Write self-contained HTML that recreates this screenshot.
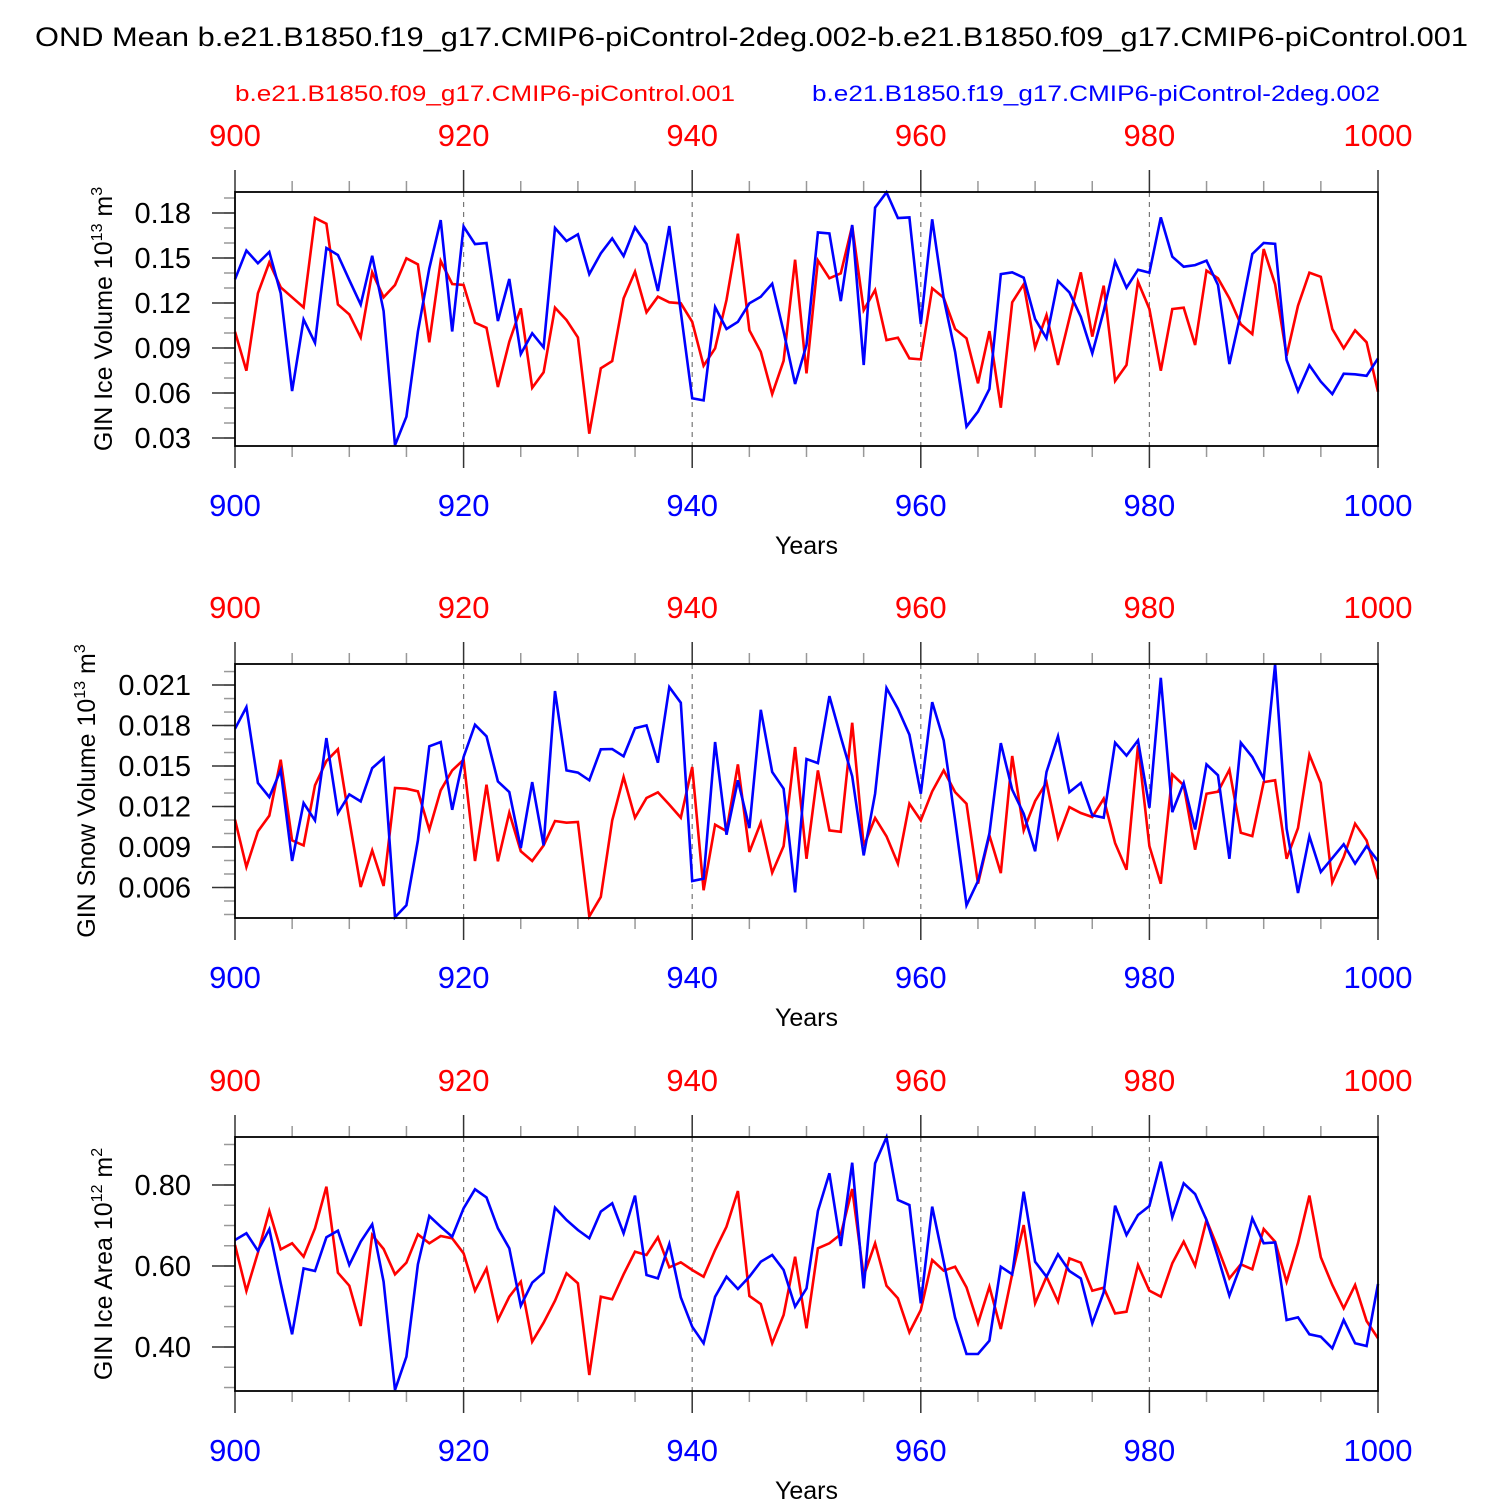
<!DOCTYPE html>
<html><head><meta charset="utf-8"><title>OND Mean GIN sea ice</title>
<style>
html,body{margin:0;padding:0;background:#fff;}
svg{display:block;font-family:"Liberation Sans",Arial,sans-serif;}
</style></head>
<body>
<svg id="chart" width="1500" height="1500" viewBox="0 0 1500 1500" xmlns="http://www.w3.org/2000/svg">
<rect x="0" y="0" width="1500" height="1500" fill="#fff"/>
<text x="35" y="46" font-size="27" textLength="1433" lengthAdjust="spacingAndGlyphs" fill="#000">OND Mean b.e21.B1850.f19_g17.CMIP6-piControl-2deg.002-b.e21.B1850.f09_g17.CMIP6-piControl.001</text>
<text x="235" y="101" font-size="22" textLength="500" lengthAdjust="spacingAndGlyphs" fill="#ff0000">b.e21.B1850.f09_g17.CMIP6-piControl.001</text>
<text x="812" y="101" font-size="22" textLength="568" lengthAdjust="spacingAndGlyphs" fill="#0000ff">b.e21.B1850.f19_g17.CMIP6-piControl-2deg.002</text>
<g id="panels"></g>
</svg>
<script>
const years = [];
for (let y = 900; y <= 1000; y++) years.push(y);
const xTickLabels = [900, 920, 940, 960, 980, 1000];

const iceVolBlue = [0.1358,0.155,0.1465,0.154,0.1265,0.0613,0.109,0.0935,0.1567,0.152,0.1353,0.119,0.1515,0.1147,0.0253,0.0442,0.1009,0.1431,0.1753,0.101,0.171,0.1593,0.160,0.108,0.136,0.086,0.0998,0.0905,0.170,0.1613,0.1658,0.1393,0.1531,0.1631,0.1513,0.1704,0.1593,0.128,0.1713,0.114,0.0565,0.0551,0.1173,0.1027,0.1075,0.1198,0.1242,0.1329,0.101,0.066,0.092,0.1671,0.1664,0.1213,0.172,0.0787,0.1836,0.1938,0.1767,0.1771,0.106,0.1758,0.1231,0.0875,0.0376,0.0476,0.0627,0.1393,0.1405,0.1369,0.1093,0.0965,0.1347,0.1271,0.1109,0.0865,0.1147,0.1476,0.1302,0.1422,0.1402,0.1771,0.1509,0.1442,0.1453,0.1482,0.132,0.0793,0.1131,0.1527,0.160,0.1595,0.082,0.0613,0.0785,0.0676,0.0593,0.0729,0.0725,0.0715,0.0831];
const iceVolRed = [0.1009,0.0749,0.1265,0.1471,0.1305,0.1238,0.1171,0.1767,0.1729,0.119,0.1124,0.0971,0.1405,0.1238,0.132,0.1498,0.1458,0.0938,0.148,0.1327,0.132,0.1069,0.1035,0.064,0.0942,0.1165,0.0635,0.0738,0.1169,0.1087,0.0971,0.0329,0.0765,0.0813,0.1231,0.1409,0.1138,0.1242,0.1205,0.1198,0.1075,0.0782,0.0898,0.122,0.1662,0.1018,0.0875,0.0593,0.0815,0.1489,0.0731,0.1484,0.1365,0.1398,0.1715,0.1153,0.1287,0.0953,0.0969,0.0831,0.0824,0.1298,0.1235,0.1027,0.0965,0.0665,0.1013,0.0502,0.1205,0.1325,0.0902,0.112,0.0787,0.1098,0.1405,0.0976,0.1316,0.068,0.0787,0.1342,0.116,0.0749,0.116,0.1169,0.092,0.1416,0.1365,0.1231,0.1058,0.0993,0.156,0.1325,0.0849,0.1182,0.1402,0.1375,0.1027,0.0898,0.1018,0.0938,0.0609];

const snowVolBlue = [0.01776,0.01937,0.01374,0.0127,0.0147,0.00796,0.01226,0.01097,0.01707,0.01152,0.0129,0.01238,0.01485,0.01559,0.0038,0.00468,0.00949,0.01646,0.01678,0.01176,0.01567,0.01806,0.0172,0.01386,0.01307,0.00893,0.01381,0.00912,0.02056,0.01468,0.01451,0.01394,0.01624,0.01626,0.01572,0.0178,0.01801,0.01525,0.02085,0.01969,0.00648,0.00665,0.01678,0.00991,0.01394,0.0104,0.01917,0.01456,0.01332,0.00564,0.01552,0.01522,0.02018,0.01715,0.01424,0.00838,0.01295,0.02078,0.01925,0.01732,0.01295,0.01974,0.0169,0.011,0.00468,0.00648,0.00999,0.0167,0.01325,0.01147,0.00868,0.01456,0.0172,0.01307,0.01374,0.01135,0.01117,0.01673,0.01577,0.0169,0.01191,0.02154,0.01159,0.01374,0.0103,0.01512,0.01431,0.00813,0.01673,0.01567,0.01406,0.02253,0.01036,0.00559,0.00979,0.00715,0.00818,0.0092,0.00777,0.00907,0.00796];
const snowVolRed = [0.01102,0.00752,0.01016,0.01132,0.01547,0.00949,0.00912,0.01357,0.01537,0.01624,0.011,0.00604,0.00875,0.00611,0.01337,0.01332,0.01312,0.01028,0.0132,0.01468,0.01547,0.00796,0.01362,0.00794,0.01154,0.00868,0.00796,0.00912,0.01093,0.0108,0.01085,0.00386,0.0053,0.01097,0.01419,0.01117,0.01263,0.01305,0.01214,0.01117,0.01493,0.00579,0.01065,0.01018,0.01512,0.00863,0.0108,0.0071,0.00907,0.01641,0.00813,0.01468,0.01023,0.01013,0.01821,0.00907,0.01115,0.00979,0.00777,0.01221,0.01097,0.01312,0.01468,0.01307,0.01221,0.00628,0.00986,0.00707,0.01574,0.01023,0.0124,0.01379,0.00969,0.01196,0.01152,0.01122,0.01258,0.00929,0.00732,0.01653,0.00907,0.00628,0.01438,0.01357,0.0088,0.01295,0.0131,0.01473,0.01006,0.00981,0.01381,0.01394,0.00813,0.0104,0.01584,0.01374,0.00638,0.00826,0.01073,0.00949,0.00661];

const iceAreaBlue = [0.6642,0.6807,0.6378,0.6905,0.5572,0.4313,0.5942,0.5877,0.6708,0.6872,0.6025,0.6601,0.7029,0.5613,0.2938,0.3761,0.6041,0.7235,0.6971,0.6724,0.7424,0.7893,0.7695,0.693,0.6436,0.502,0.5588,0.5835,0.744,0.7136,0.6889,0.6683,0.7342,0.7547,0.6807,0.7737,0.5778,0.5695,0.6543,0.5226,0.4502,0.4091,0.5243,0.5737,0.5432,0.5737,0.6107,0.6272,0.5901,0.4996,0.5448,0.7358,0.8288,0.6494,0.8551,0.5448,0.8535,0.9177,0.763,0.7506,0.5078,0.7465,0.6107,0.4724,0.3827,0.3827,0.4156,0.5984,0.5794,0.7835,0.6107,0.5737,0.6288,0.5877,0.5695,0.4584,0.535,0.749,0.6765,0.7259,0.7481,0.8576,0.7202,0.8041,0.7778,0.7136,0.6214,0.5267,0.6025,0.7177,0.656,0.6584,0.4667,0.4733,0.4313,0.4255,0.3967,0.4667,0.4091,0.4025,0.5556];
const iceAreaRed = [0.6518,0.5383,0.6329,0.7358,0.6411,0.656,0.623,0.693,0.7959,0.5835,0.5514,0.4519,0.6765,0.642,0.5794,0.6082,0.6782,0.656,0.6741,0.6683,0.6313,0.5391,0.5942,0.4667,0.5243,0.5613,0.4132,0.4601,0.5144,0.5819,0.5572,0.3309,0.5243,0.5177,0.5794,0.6354,0.6272,0.6708,0.5967,0.6091,0.5901,0.5737,0.6395,0.6971,0.7852,0.5259,0.5062,0.4091,0.479,0.623,0.4461,0.6436,0.656,0.6782,0.7901,0.5753,0.656,0.5514,0.5202,0.4362,0.4914,0.6148,0.5885,0.5984,0.5473,0.4584,0.549,0.4444,0.5802,0.7012,0.5078,0.5737,0.5119,0.6189,0.6082,0.5391,0.5465,0.4831,0.4872,0.6025,0.5391,0.5243,0.6066,0.6601,0.6008,0.7136,0.6436,0.5695,0.6041,0.5918,0.6913,0.6601,0.5613,0.656,0.7737,0.6214,0.5531,0.4955,0.5531,0.4642,0.4214];

const iceVolTicks = ["0.03","0.06","0.09","0.12","0.15","0.18"];
const snowVolTicks = ["0.006","0.009","0.012","0.015","0.018","0.021"];
const iceAreaTicks = ["0.40","0.60","0.80"];

const NS = "http://www.w3.org/2000/svg";
const root = document.getElementById("panels");
const X0 = 235, X1 = 1378;
function xScale(yr){ return X0 + (yr - 900) / 100 * (X1 - X0); }
function mk(tag, attrs, parent){ const e = document.createElementNS(NS, tag); for (const k in attrs) e.setAttribute(k, attrs[k]); (parent||root).appendChild(e); return e; }

const panels = [
  {top:192, vmin:0.02467, vmax:0.194, ticks:iceVolTicks, minor:0.01, blue:iceVolBlue, red:iceVolRed, title:"GIN Ice Volume 10", sup:"13", unit:" m", usup:"3", tx:112, name:"ice-volume"},
  {top:664, vmin:0.00374, vmax:0.02256, ticks:snowVolTicks, minor:0.001, blue:snowVolBlue, red:snowVolRed, title:"GIN Snow Volume 10", sup:"13", unit:" m", usup:"3", tx:95, name:"snow-volume"},
  {top:1137, vmin:0.2914, vmax:0.9185, ticks:iceAreaTicks, minor:0.05, blue:iceAreaBlue, red:iceAreaRed, title:"GIN Ice Area 10", sup:"12", unit:" m", usup:"2", tx:112, name:"ice-area"}
];

panels.forEach(function(p){
  const H = 254, top = p.top, bot = top + H;
  const g = mk("g", {});
  
  
  function yScale(v){ return bot - (v - p.vmin) / (p.vmax - p.vmin) * H; }
  [920,940,960,980].forEach(function(yr){
    const l = mk("line", {x1:xScale(yr), x2:xScale(yr), y1:top, y2:bot, stroke:"#777", "stroke-width":1.2, "stroke-dasharray":"5,5"}, g);
    
    
  });
  for (let yr = 900; yr <= 1000; yr += 5) {
    const major = (yr % 20 === 0);
    const len = major ? 22 : 11;
    const x = xScale(yr);
    const t1 = mk("line", {x1:x, x2:x, y1:top, y2:top - len, stroke:major?"#333":"#999", "stroke-width":1.5}, g);
    
    
    const t2 = mk("line", {x1:x, x2:x, y1:bot, y2:bot + len, stroke:major?"#333":"#999", "stroke-width":1.5}, g);
    
    
  }
  xTickLabels.forEach(function(yr){
    const a = mk("text", {x:xScale(yr), y:top - 46, "font-size":31, "text-anchor":"middle", fill:"#ff0000"}, g);
    a.textContent = yr;
    
    
    const b = mk("text", {x:xScale(yr), y:bot + 70, "font-size":31, "text-anchor":"middle", fill:"#0000ff"}, g);
    b.textContent = yr;
    
    
  });
  const yl = mk("text", {x:(X0+X1)/2, y:bot + 108, "font-size":25, "text-anchor":"middle", fill:"#000"}, g);
  yl.textContent = "Years";
  
  
  const nMin = Math.ceil(p.vmin / p.minor - 1e-6), nMax = Math.floor(p.vmax / p.minor + 1e-6);
  for (let k = nMin; k <= nMax; k++) {
    const y = yScale(k * p.minor);
    const t = mk("line", {x1:X0, x2:X0 - 11, y1:y, y2:y, stroke:"#999", "stroke-width":1.5}, g);
    
    
  }
  p.ticks.forEach(function(s){
    const v = parseFloat(s), y = yScale(v);
    const t = mk("line", {x1:X0, x2:X0 - 23, y1:y, y2:y, stroke:"#333", "stroke-width":1.5}, g);
    
    
    const lab = mk("text", {x:191, y:y + 10, "font-size":29, "text-anchor":"end", fill:"#000"}, g);
    lab.textContent = s;
    
    
  });
  const cy = (top + bot) / 2;
  const tt = mk("text", {x:0, y:0, "font-size":25, "text-anchor":"middle", fill:"#000", transform:"translate(" + p.tx + "," + cy + ") rotate(-90)"}, g);
  
  
  const s1 = mk("tspan", {}, tt); s1.textContent = p.title;
  const s2 = mk("tspan", {"font-size":16, dy:-10}, tt); s2.textContent = p.sup;
  const s3 = mk("tspan", {dy:10}, tt); s3.textContent = p.unit;
  const s4 = mk("tspan", {"font-size":16, dy:-10}, tt); s4.textContent = p.usup;
  function pts(arr){ return arr.map(function(v,i){ return xScale(years[i]).toFixed(1) + "," + yScale(v).toFixed(1); }).join(" "); }
  const rl = mk("polyline", {points:pts(p.red), fill:"none", stroke:"#ff0000", "stroke-width":2.6, "stroke-linejoin":"miter"}, g);
  
  
  const bl = mk("polyline", {points:pts(p.blue), fill:"none", stroke:"#0000ff", "stroke-width":2.6, "stroke-linejoin":"miter"}, g);
  
  
  const fr = mk("rect", {x:X0, y:top, width:X1 - X0, height:H, fill:"none", stroke:"#000", "stroke-width":1.8}, g);
  
  
});
</script>
</body></html>
